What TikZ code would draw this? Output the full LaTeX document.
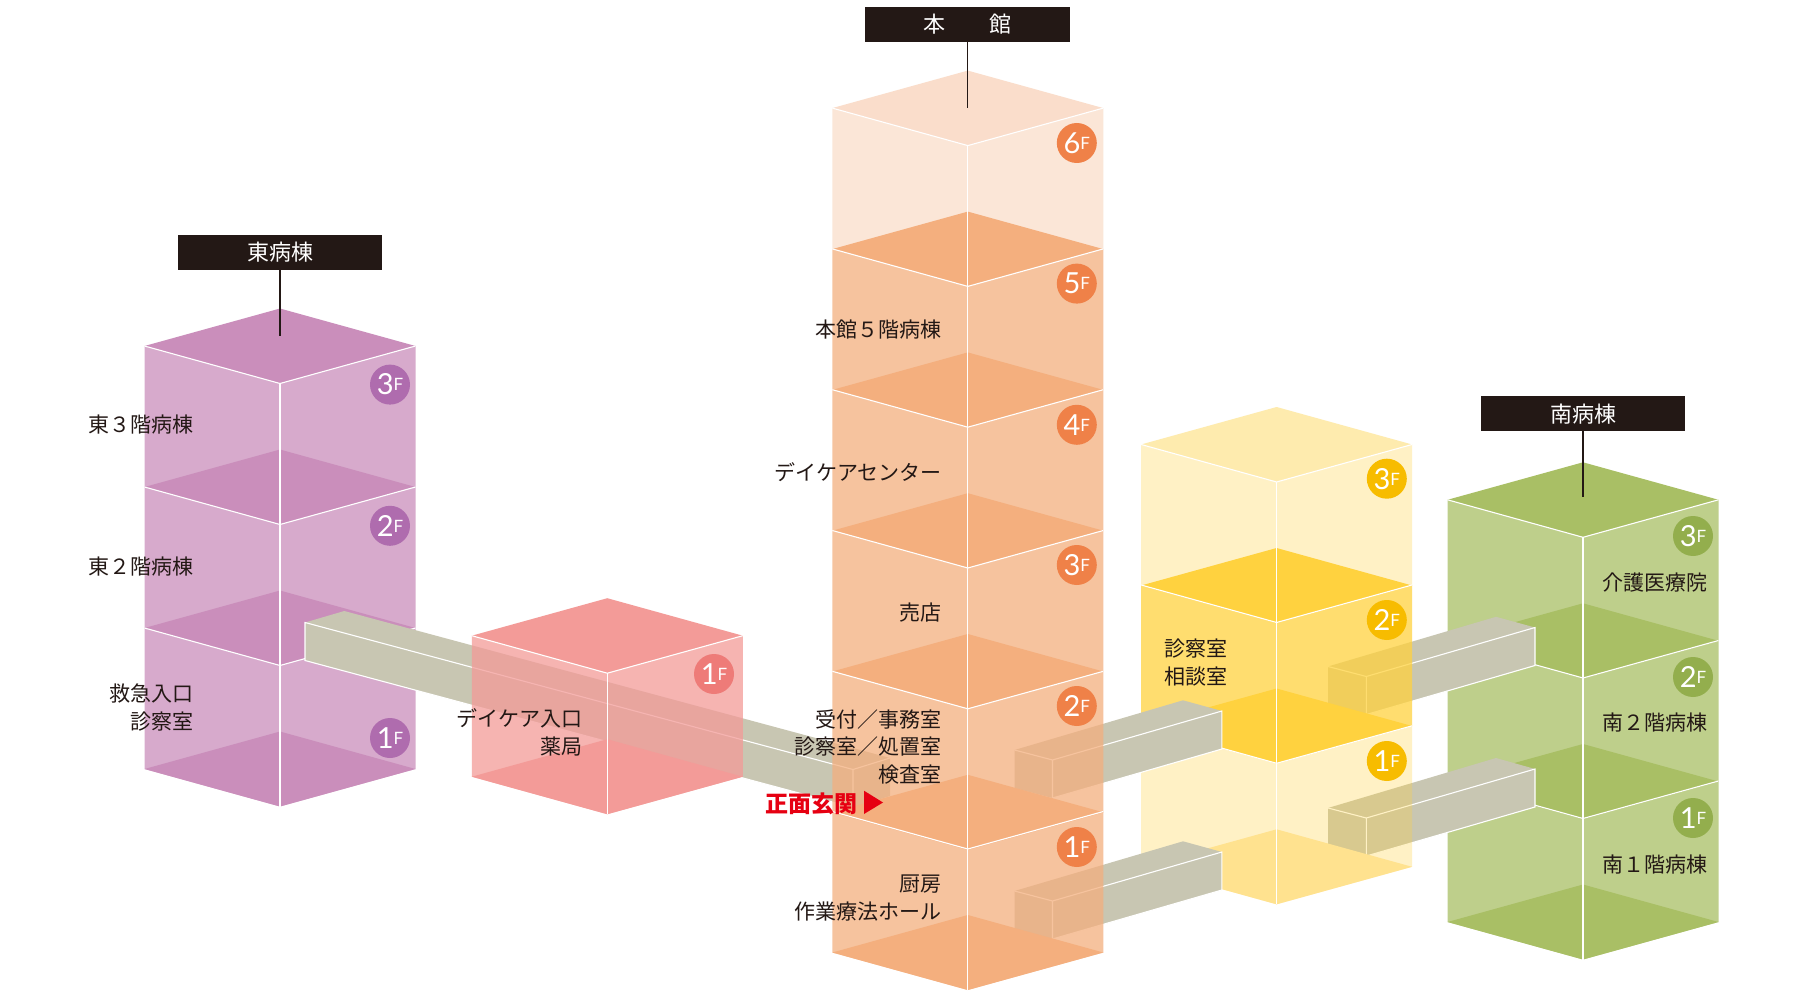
\documentclass[tikz,border=0pt]{standalone}
\usepackage{fontspec}
\setmainfont{Noto Sans CJK JP}
\newfontfamily\digitfont{Lato}
\usetikzlibrary{calc}

\definecolor{inkdark}{HTML}{231815}
\definecolor{eastfloor}{HTML}{CA8EBB}
\definecolor{eastmark}{HTML}{AF6CAE}
\definecolor{entryfloor}{HTML}{F39B98}
\definecolor{entrymark}{HTML}{EE7B78}
\definecolor{mainfloor}{HTML}{F4AF7E}
\definecolor{mainpale}{HTML}{FADDCB}
\definecolor{mainmark}{HTML}{EF8148}
\definecolor{clinicfloor}{HTML}{FFD23F}
\definecolor{clinicpale}{HTML}{FEEBAE}
\definecolor{clinicbase}{HTML}{FFE28F}
\definecolor{clinicmark}{HTML}{F7BC00}
\definecolor{southfloor}{HTML}{A9BF65}
\definecolor{southmark}{HTML}{93AE4D}
\definecolor{bridgegrey}{HTML}{C8C6B2}
\definecolor{entryred}{HTML}{E60012}

% one storey: centre x, top y, wall colour, wall opacity, colour of the slab below
\newcommand{\towerfloor}[5]{
    \fill[#3,fill opacity=#4] ({#1-135.5},{#2-37.5}) -- (#1,#2) -- ({#1+135.5},{#2-37.5})
        -- ({#1+135.5},{#2+103.5}) -- (#1,{#2+141}) -- ({#1-135.5},{#2+103.5}) -- cycle;
    \fill[#5] (#1,{#2+66}) -- ({#1+135.5},{#2+103.5}) -- (#1,{#2+141}) -- ({#1-135.5},{#2+103.5}) -- cycle;
    \draw[edge] ({#1-135.5},{#2-37.5}) -- (#1,#2) -- ({#1+135.5},{#2-37.5});
    \draw[edge] (#1,#2) -- (#1,{#2+141});
}
% the slab on top of a tower
\newcommand{\towerroof}[3]{
    \fill[#3] (#1,{#2-75}) -- ({#1+135.5},{#2-37.5}) -- (#1,#2) -- ({#1-135.5},{#2-37.5}) -- cycle;
}
% end back, end front, far front, far back
\newcommand{\bridgebar}[4]{
    \fill[bridgegrey] (#1) -- (#4) -- (#3) -- ++(0,38) -- ($(#2)+(0,38)$) -- ($(#1)+(0,38)$) -- cycle;
    \draw[edge] (#1) -- (#2) -- (#3) -- ++(0,38) -- ($(#2)+(0,38)$) -- (#2);
}
\newcommand{\storey}[1]{{\digitfont\fontsize{29}{29}\selectfont #1}\raisebox{4pt}{\digitfont\fontsize{17}{17}\selectfont F}}

\begin{document}
\begin{tikzpicture}
[   x=1pt,y=-1pt,
    edge/.style={draw=white,line width=1.1pt},
    namebox/.style={fill=inkdark,text=white,minimum width=204.5pt,minimum height=35pt,inner sep=0pt,font=\fontsize{22}{26}\selectfont},
    leader/.style={draw=inkdark,line width=1.2pt},
    badge/.style={circle,fill=#1,text=white,minimum size=40pt,inner sep=0pt},
    room/.style={text=inkdark,inner sep=0pt,font=\fontsize{21}{27.5}\selectfont},
]
    \useasboundingbox (0,0) rectangle (1800,1000);
    \fill[white] (0,0) rectangle (1800,1000);

    % east ward
    \towerroof{280}{383.5}{eastfloor}
    \foreach \y in {383.5,524.5,665.5}
    {
        \towerfloor{280}{\y}{eastfloor}{.75}{eastfloor}
    }

    % south ward
    \towerroof{1583}{537.3}{southfloor}
    \foreach \y in {537.3,678,818.5}
    {
        \towerfloor{1583}{\y}{southfloor}{.75}{southfloor}
    }

    \bridgebar{890,758}{853,769.5}{305,622.5}{344.3,611}
    \bridgebar{1328,666.5}{1366.3,676.5}{1535,627.5}{1496,616.8}
    \bridgebar{1328,808}{1366.3,818}{1535,769}{1496,758}

    % daycare entrance
    \towerroof{607.3}{673.2}{entryfloor}
    \towerfloor{607.3}{673.2}{entryfloor}{.75}{entryfloor}

    % clinic
    \towerroof{1276.6}{482}{clinicpale}
    \towerfloor{1276.6}{482}{clinicfloor}{.3}{clinicfloor}
    \towerfloor{1276.6}{622.5}{clinicfloor}{.75}{clinicfloor}
    \towerfloor{1276.6}{763.3}{clinicfloor}{.3}{clinicbase}

    \bridgebar{1014.5,750}{1052.5,760}{1221.9,711}{1183,700.3}
    \bridgebar{1014.5,891}{1052.5,901}{1221.9,852}{1183,841.3}

    % main building
    \towerroof{967.8}{145.6}{mainpale}
    \towerfloor{967.8}{145.6}{mainfloor}{.31}{mainfloor}
    \foreach \y in {286.4,427.2,568,708.8,849}
    {
        \towerfloor{967.8}{\y}{mainfloor}{.75}{mainfloor}
    }

    % names
    \node[namebox] (east) at (280,252.5) {東病棟};
    \node[namebox] (main) at (967.5,24.6) {本　　館};
    \node[namebox] (south) at (1583,413.7) {南病棟};
    \coordinate (eastend) at (280,336.5);
    \coordinate (mainend) at (967.5,108.3);
    \coordinate (southend) at (1583,497);
    \draw[leader] (east) -- (eastend);
    \draw[leader] (main) -- (mainend);
    \draw[leader] (south) -- (southend);

    % storey marks
    \foreach \n/\y in {3/384.6,2/525.8,1/738}
    {
        \node[badge=eastmark] (east-\n) at (390,\y) {\storey{\n}};
    }
    \node[badge=entrymark] (entry-1) at (714,674) {\storey{1}};
    \foreach \n/\y in {6/143,5/283.6,4/424.8,3/565,2/706,1/847}
    {
        \node[badge=mainmark] (main-\n) at (1076.8,\y) {\storey{\n}};
    }
    \foreach \n/\y in {3/478.7,2/620,1/761}
    {
        \node[badge=clinicmark] (clinic-\n) at (1386.8,\y) {\storey{\n}};
    }
    \foreach \n/\y in {3/536,2/677,1/818}
    {
        \node[badge=southmark] (south-\n) at (1693,\y) {\storey{\n}};
    }

    % rooms
    \node[room,anchor=east] (east3) at (194,424.7) {東３階病棟};
    \node[room,anchor=east] (east2) at (194,567) {東２階病棟};
    \node[room,anchor=east,align=right] (east1) at (194,707.5) {救急入口\\診察室};
    \node[room,anchor=east,align=right] (entry1) at (583,732.5) {デイケア入口\\薬局};
    \node[room,anchor=east] (main5) at (942,330) {本館５階病棟};
    \node[room,anchor=east] (main4) at (942,472.5) {デイケアセンター};
    \node[room,anchor=east] (main3) at (942,613) {売店};
    \node[room,anchor=east,align=right] (main2) at (942,747) {受付／事務室\\診察室／処置室\\検査室};
    \node[room,anchor=east,align=right] (main1) at (942,898) {厨房\\作業療法ホール};
    \node[room,anchor=west,align=left] (clinic2) at (1164,662.5) {診察室\\相談室};
    \node[room,anchor=west] (south3) at (1602.6,582.5) {介護医療院};
    \node[room,anchor=west] (south2) at (1602.6,722.5) {南２階病棟};
    \node[room,anchor=west] (south1) at (1602.6,864.5) {南１階病棟};

    % front door
    \node[text=entryred,inner sep=0pt,anchor=west,font=\fontsize{23}{26}\selectfont\bfseries] (door) at (765.7,803.6) {正面玄関};
    \fill[entryred] (864,790.7) -- (883,802.5) -- (864,814) -- cycle;
\end{tikzpicture}
\end{document}
